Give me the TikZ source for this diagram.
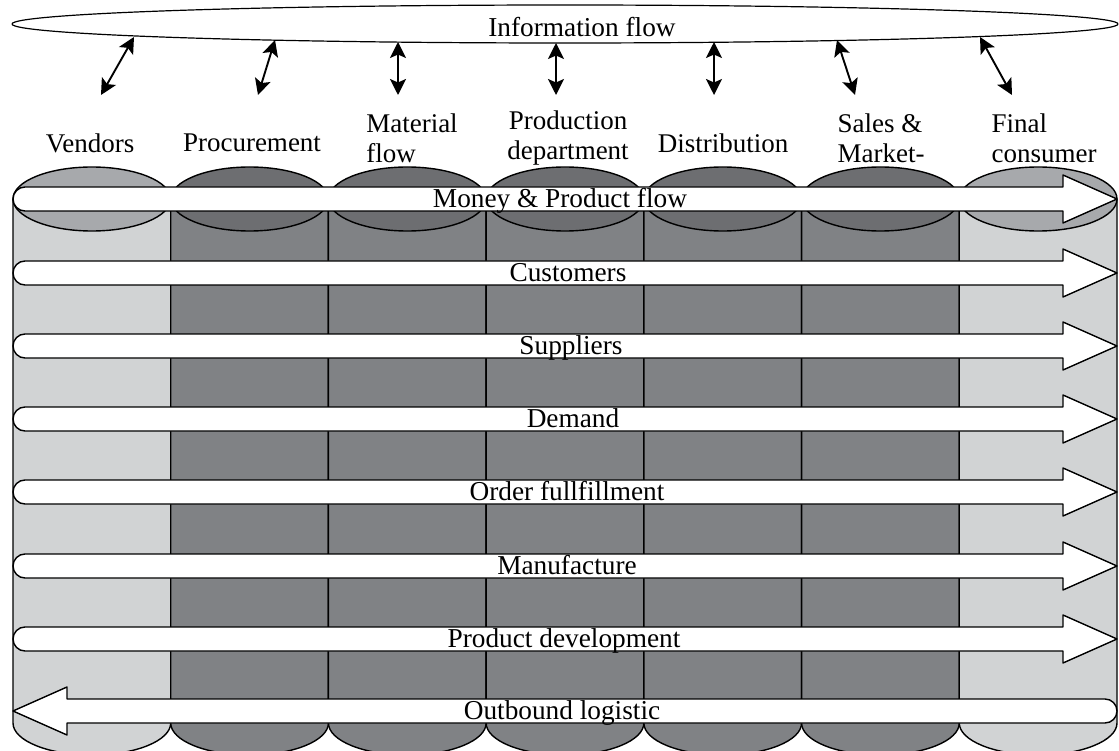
\documentclass[tikz,border=0pt]{standalone}
\usepackage{fontspec}
\setmainfont{Liberation Serif}
\usetikzlibrary{arrows.meta}
\definecolor{bodylight}{HTML}{D1D3D4}
\definecolor{bodydark}{HTML}{808285}
\definecolor{toplight}{HTML}{A7A9AC}
\definecolor{topdark}{HTML}{6D6E71}
% rightward flow band centred at height #1
\newcommand\rightband[1]{%
  \draw[flowarrow] (1063,#1-12) -- (25,#1-12)
    arc[start angle=90,end angle=270,radius=12pt]
    -- (1063,#1+12) -- (1063,#1+24) -- (1117,#1) -- (1063,#1-24) -- cycle;}
% leftward flow band centred at height #1
\newcommand\leftband[1]{%
  \draw[flowarrow] (67,#1-12) -- (1105,#1-12)
    arc[start angle=90,end angle=-90,radius=12pt]
    -- (67,#1+12) -- (67,#1+24) -- (13,#1) -- (67,#1-24) -- cycle;}
\begin{document}
\begin{tikzpicture}[x=1pt,y=-1pt,line join=round,
  outline/.style={draw=black,line width=1.4pt},
  flowarrow/.style={draw=black,line width=1.4pt,fill=white},
  twoway/.style={{Stealth[length=16pt,width=16pt,inset=3.5pt]}-{Stealth[length=16pt,width=16pt,inset=3.5pt]},line width=1.9pt},
  lbl/.style={font=\fontsize{27}{30}\selectfont,align=center,inner sep=0pt},
  flowlbl/.style={font=\fontsize{27.3}{29}\selectfont,inner sep=0pt,anchor=base}]
\useasboundingbox (0,0) rectangle (1119,751);
\begin{scope}
\clip (0,0) rectangle (1119,751);
% cylinder bodies with their bottom arcs
\foreach \i/\c in {0/bodylight,1/bodydark,2/bodydark,3/bodydark,4/bodydark,5/bodydark,6/bodylight}{
  \pgfmathsetmacro\xa{13+157.714*\i}
  \filldraw[fill=\c,outline] (\xa,199) -- (\xa,723)
    arc[start angle=180,end angle=360,x radius=78.857pt,y radius=32pt]
    -- (\xa+157.714,199);
}
% cylinder tops
\foreach \i/\t in {0/toplight,1/topdark,2/topdark,3/topdark,4/topdark,5/topdark,6/toplight}{
  \pgfmathsetmacro\xm{13+157.714*\i+78.857}
  \filldraw[fill=\t,outline] (\xm,199) ellipse[x radius=78.857pt,y radius=32pt];
}
\end{scope}
% flow bands
\rightband{199}
\rightband{273}
\rightband{346}
\rightband{419}
\rightband{492}
\rightband{566}
\rightband{639}
\leftband{711}
\node[flowlbl] (money) at (560,207.5) {Money \& Product flow};
\node[flowlbl] (customers) at (568,281.5) {Customers};
\node[flowlbl] (suppliers) at (571,354.5) {Suppliers};
\node[flowlbl] (demand) at (573,427.5) {Demand};
\node[flowlbl] (order) at (567,500.5) {Order fullfillment};
\node[flowlbl] (manufacture) at (567,574.5) {Manufacture};
\node[flowlbl] (development) at (564,647.5) {Product development};
\node[flowlbl] (outbound) at (562,719.5) {Outbound logistic};
% information flow
\draw[draw=black,line width=1.2pt,fill=white] (565,24) ellipse[x radius=553pt,y radius=19pt];
\node[flowlbl] (info) at (582,36.5) {Information flow};
% stage labels
\node[lbl] (vendors) at (90,143) {Vendors};
\node[lbl] (procurement) at (252,143) {Procurement};
\node[lbl,align=left] (material) at (412,138) {Material\\flow};
\node[lbl] (production) at (568,138) {Production\\department};
\node[lbl] (distribution) at (723,143) {Distribution};
\node[lbl,align=left] (sales) at (881,138) {Sales \&\\Market-};
\node[lbl,align=left] (final) at (1044,138) {Final\\consumer};
% links between the stages and the information flow
\coordinate (i1) at (134,37);  \coordinate (s1) at (101,95);
\coordinate (i2) at (275,40);  \coordinate (s2) at (258,95);
\coordinate (i3) at (398,42);  \coordinate (s3) at (398,95);
\coordinate (i4) at (556,43);  \coordinate (s4) at (556,95);
\coordinate (i5) at (714,42);  \coordinate (s5) at (714,95);
\coordinate (i6) at (837,40);  \coordinate (s6) at (855,95);
\coordinate (i7) at (980,37);  \coordinate (s7) at (1012,95);
\foreach \k in {1,...,7}{\draw[twoway] (i\k) -- (s\k);}
\end{tikzpicture}
\end{document}
